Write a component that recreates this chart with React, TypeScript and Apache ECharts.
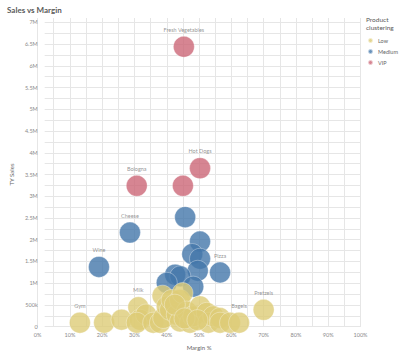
import React, { useEffect, useRef } from "react";
import * as echarts from "echarts";

// [margin %, TY sales, label]
const lowPoints: [number, number, string?][] = [
  [13.1, 0, "Gym"], [20.6, 0], [26.0, 70000], [31.2, 360000, "Milk"], [31.7, 70000],
  [33.6, 190000], [30.7, 0], [35.8, 0], [37.9, 0], [38.9, 110000], [38.7, 630000],
  [40.0, 380000], [41.0, 300000], [41.5, 530000], [43.1, 190000], [44.1, 530000],
  [44.9, 690000], [44.1, 30000], [46.2, 260000], [47.2, 0], [48.2, 150000],
  [50.3, 380000], [52.4, 230000], [52.9, 0], [54.4, 150000], [56.5, 110000],
  [56.5, 0], [59.6, 0], [62.4, 0, "Bagels"], [70.0, 300000, "Pretzels"],
  [42.5, 420000], [45.5, 100000], [49.5, 60000],
];
const mediumPoints: [number, number, string?][] = [
  [45.7, 2460000], [28.6, 2100000, "Cheese"], [50.3, 1890000], [19.0, 1300000, "Wine"],
  [47.9, 1600000], [50.3, 1490000], [56.5, 1170000, "Pizza"], [49.6, 1210000],
  [42.6, 1120000], [44.2, 1080000], [40.0, 930000], [48.2, 840000],
];
const vipPoints: [number, number, string?][] = [
  [45.3, 6430000, "Fresh Vegetables"], [50.3, 3600000, "Hot Dogs"],
  [30.7, 3190000, "Bologna"], [45.0, 3190000],
];
const clusterNames = ["Low", "Medium", "VIP"];
const clusterColors = ["#ddcc77", "#4477aa", "#cc6677"];
const xTicks = [0, 100, 10];
const yTicks = [0, 7000000, 500000];

const FONT = "Lato, 'Open Sans', sans-serif";

function toData(points: [number, number, string?][]) {
  return points.map((p) => ({
    name: p[2] || "",
    value: [p[0], p[1]],
    label: { show: !!p[2] },
  }));
}

function fmtY(v: number) {
  if (v === 0) return "0";
  if (v < 1000000) return v / 1000 + "k";
  return v / 1000000 + "M";
}

export default function App() {
  const ref = useRef<HTMLDivElement>(null);
  useEffect(() => {
    if (!ref.current) return;
    document.body.style.margin = "0";
    const chart = echarts.init(ref.current, null, { renderer: "svg" });
    const gridLine = { lineStyle: { color: "#e6e6e6", width: 1 } };
    const mk = (i: number, pts: [number, number, string?][]) => ({
      type: "scatter",
      name: clusterNames[i],
      xAxisIndex: 0,
      yAxisIndex: 0,
      symbolSize: 21,
      data: toData(pts),
      itemStyle: {
        color: clusterColors[i],
        borderColor: "rgba(255,255,255,0.7)",
        borderWidth: 0.6,
      },
      label: {
        position: "top",
        distance: 3,
        fontSize: 5.5,
        color: "#7a7a7a",
        fontFamily: FONT,
        formatter: (p: any) => p.name,
      },
    });
    chart.setOption({
      animation: false,
      textStyle: { fontFamily: FONT },
      title: {
        text: "Sales vs Margin",
        left: 2,
        top: 1,
        textStyle: { fontSize: 8, fontWeight: "bold", color: "#595959", fontFamily: FONT },
      },
      legend: {
        data: clusterNames,
        orient: "vertical",
        left: 367,
        top: 37,
        padding: 0,
        icon: "circle",
        itemWidth: 5,
        itemHeight: 5,
        itemGap: 4,
        textStyle: { fontSize: 5.5, color: "#666", fontFamily: FONT },
      },
      graphic: [
        {
          type: "text",
          left: 366,
          top: 15,
          style: {
            text: "Product\nclustering",
            fontSize: 6.5,
            lineHeight: 8,
            fill: "#595959",
            fontFamily: FONT,
          },
        },
      ],
      grid: [
        { left: 37.6, right: 39.5, top: 18, bottom: 24 },
        { left: 37.6, right: 39.5, top: 22.35, bottom: 28.35 },
      ],
      xAxis: [
        {
          type: "value",
          gridIndex: 0,
          min: xTicks[0],
          max: xTicks[1],
          interval: xTicks[2],
          axisLine: { show: false },
          axisTick: { show: false },
          splitLine: { show: true, ...gridLine },
          minorTick: { show: false, splitNumber: 2 },
          minorSplitLine: { show: true, ...gridLine },
          axisLabel: {
            formatter: "{value}%",
            fontSize: 5.5,
            color: "#8a8a8a",
            margin: 5,
            fontFamily: FONT,
          },
          name: "Margin %",
          nameLocation: "middle",
          nameGap: 17,
          nameTextStyle: { fontSize: 6, color: "#666", fontFamily: FONT },
        },
        {
          type: "value",
          gridIndex: 1,
          min: xTicks[0],
          max: xTicks[1],
          show: false,
        },
      ],
      yAxis: [
        {
          type: "value",
          gridIndex: 0,
          min: -100000,
          max: 7100000,
          show: false,
        },
        {
          type: "value",
          gridIndex: 1,
          min: yTicks[0],
          max: yTicks[1],
          interval: yTicks[2],
          axisLine: { show: false },
          axisTick: { show: false },
          splitLine: { show: true, ...gridLine },
          minorTick: { show: false, splitNumber: 2 },
          minorSplitLine: { show: true, ...gridLine },
          axisLabel: {
            formatter: (v: number) => fmtY(v),
            fontSize: 5.5,
            color: "#8a8a8a",
            margin: 7,
            fontFamily: FONT,
          },
          name: "TY Sales",
          nameLocation: "middle",
          nameGap: 27,
          nameTextStyle: { fontSize: 6, color: "#666", fontFamily: FONT },
        },
      ],
      series: [mk(2, vipPoints), mk(1, mediumPoints), mk(0, lowPoints)],
    });
    return () => chart.dispose();
  }, []);
  return (
    <div
      ref={ref}
      style={{ position: "absolute", left: 0, top: 0, width: 400, height: 355 }}
    />
  );
}
